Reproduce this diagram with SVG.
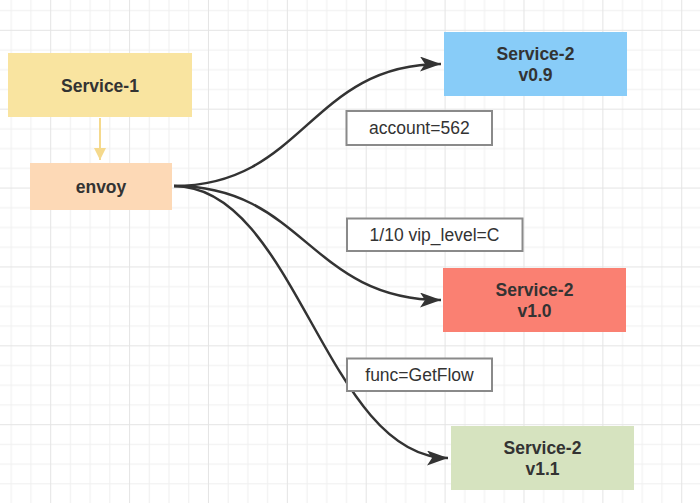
<svg xmlns="http://www.w3.org/2000/svg" width="700" height="503" viewBox="0 0 700 503">
  <style>
    .node-text { font-family: "Liberation Sans", Arial, sans-serif; font-size: 17.5px; font-weight: bold; fill: #333333; text-anchor: middle; }
    .label-box { fill: #ffffff; stroke: #8a8a8a; stroke-width: 2; }
    .label-text { font-family: "Liberation Sans", Arial, sans-serif; font-size: 17.5px; fill: #333333; text-anchor: middle; }
    .edge { fill: none; stroke: #333333; stroke-width: 2.5; }
    .edge-yellow { fill: none; stroke: #f5d98c; stroke-width: 2; }
  </style>
  <defs>
    <pattern id="grid" patternUnits="userSpaceOnUse" x="50.2" y="29.8" width="78.88" height="78.88">
      <path d="M20.22,0 V78.88 M39.94,0 V78.88 M59.66,0 V78.88 M0,20.22 H78.88 M0,39.94 H78.88 M0,59.66 H78.88" stroke="#f0f0f0" stroke-width="1" fill="none"/>
      <path d="M0.5,0 V78.88 M0,0.5 H78.88" stroke="#e4e4e4" stroke-width="1" fill="none"/>
    </pattern>
    <marker id="arrow" markerUnits="userSpaceOnUse" markerWidth="24" markerHeight="16" refX="21" refY="7.5" orient="auto">
      <path d="M0,0 L21,7.5 L0,15 L5,7.5 Z" fill="#333333"/>
    </marker>
    <marker id="arrow-yellow" markerUnits="userSpaceOnUse" markerWidth="14" markerHeight="14" refX="12" refY="6" orient="auto">
      <path d="M0,0 L12,6 L0,12 Z" fill="#f5d98c"/>
    </marker>
  </defs>

  <rect x="0" y="0" width="700" height="503" fill="#ffffff"/>
  <rect x="0" y="0" width="700" height="503" fill="url(#grid)"/>

  <g id="connectors">
    <path class="edge-yellow" d="M100,118 L100,160" marker-end="url(#arrow-yellow)"/>
    <path class="edge" d="M174,186 C304,186 310,64 441,64" marker-end="url(#arrow)"/>
    <path class="edge" d="M174,186 C304,186 310,300 441,300" marker-end="url(#arrow)"/>
    <path class="edge" d="M174,186 C296,186 326,458 448,458" marker-end="url(#arrow)"/>
  </g>

  <g id="service-1">
    <rect x="8" y="53" width="184" height="64" fill="#f9e4a0"/>
    <text class="node-text" x="100" y="91.5">Service-1</text>
  </g>

  <g id="envoy">
    <rect x="30" y="163" width="142" height="47" fill="#fdd9b6"/>
    <text class="node-text" x="101" y="193">envoy</text>
  </g>

  <g id="service-2-v09">
    <rect x="444" y="32" width="183" height="64" fill="#88ccf8"/>
    <text class="node-text" x="535.5" y="59.5">Service-2</text>
    <text class="node-text" x="535.5" y="80.5">v0.9</text>
  </g>

  <g id="service-2-v10">
    <rect x="443" y="268" width="183" height="64" fill="#fa8072"/>
    <text class="node-text" x="534.5" y="295.5">Service-2</text>
    <text class="node-text" x="534.5" y="316.5">v1.0</text>
  </g>

  <g id="service-2-v11">
    <rect x="451" y="426" width="183" height="64" fill="#d6e3bf"/>
    <text class="node-text" x="542.5" y="454">Service-2</text>
    <text class="node-text" x="542.5" y="475">v1.1</text>
  </g>

  <g id="label-account">
    <rect class="label-box" x="346.5" y="111" width="145.5" height="34"/>
    <text class="label-text" x="419.3" y="134">account=562</text>
  </g>

  <g id="label-vip">
    <rect class="label-box" x="347" y="218.5" width="175.5" height="32.5"/>
    <text class="label-text" x="434.5" y="240.5">1/10 vip_level=C</text>
  </g>

  <g id="label-func">
    <rect class="label-box" x="347" y="358.5" width="145" height="32.5"/>
    <text class="label-text" x="419.5" y="380.5">func=GetFlow</text>
  </g>
</svg>
